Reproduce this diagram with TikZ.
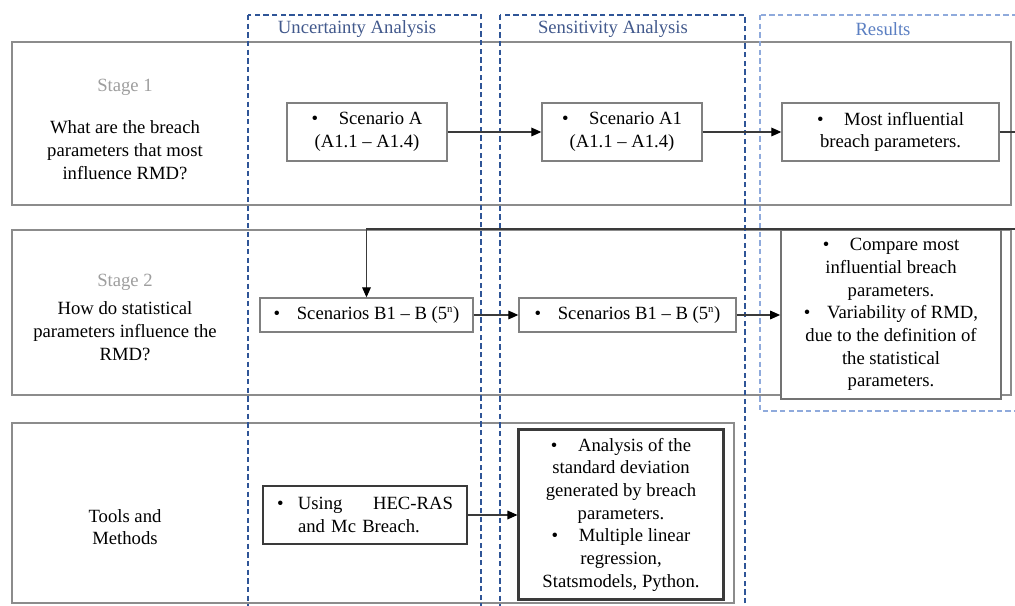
\documentclass[tikz,border=0pt]{standalone}
\usepackage{fontspec}
\setmainfont{Liberation Serif}
\usetikzlibrary{arrows.meta}
\definecolor{framegray}{HTML}{8C8C8C}
\definecolor{boxgray}{HTML}{808080}
\definecolor{colblue}{HTML}{2F5597}
\definecolor{resblue}{HTML}{8FAADC}
\definecolor{headblue}{HTML}{42598C}
\definecolor{reshead}{HTML}{5B7FC2}
\definecolor{stagegray}{HTML}{9E9E9E}
\definecolor{linkgray}{HTML}{3A3A3A}
\begin{document}
\begin{tikzpicture}[x=0.75pt, y=-0.75pt,
  font=\fontsize{14}{17}\selectfont,
  rowframe/.style = {draw=framegray, line width=1.2pt},
  column/.style   = {draw=colblue, line width=1.3pt,
                     dash pattern=on 4pt off 2.5pt},
  colhead/.style  = {text=headblue, inner sep=0pt},
  stagelbl/.style = {text=stagegray, inner sep=0pt},
  question/.style = {align=center, inner sep=0pt},
  box/.style      = {draw=boxgray, line width=1pt, fill=white,
                     align=center, inner sep=0pt},
  flow/.style     = {draw=linkgray, line width=0.9pt,
                     -{Triangle[length=7.5pt,width=6.5pt,color=black]}},
  ]
  \path[use as bounding box, fill=white] (0,0) rectangle (1015,606);
  % rows
  \draw[rowframe] (12,42)  rectangle (1011,205);
  \draw[rowframe] (12,230) rectangle (1011,395);
  \draw[rowframe] (12,423) rectangle (734,603);
  % columns
  \draw[column] (248,15) rectangle (481,620);
  \draw[column] (500,15) rectangle (745,620);
  \draw[column, draw=resblue] (760,15) rectangle (1030,411);
  \node[colhead] (uaHead) at (357,29) {Uncertainty Analysis};
  \node[colhead] (saHead) at (613,29) {Sensitivity Analysis};
  \node[colhead, text=reshead] (resHead) at (883,29) {Results};

  \node[stagelbl] (stageA) at (125,87) {Stage 1};
  \node[question] (questA) at (125,150) {What are the breach\\parameters that most\\influence RMD?};
  \node[stagelbl] (stageB) at (125,282) {Stage 2};
  \node[question] (questB) at (125,331) {How do statistical\\parameters influence the\\RMD?};
  \node[question] (tools) at (125,527) {Tools and\\Methods};

  \node[box, minimum width=120pt, minimum height=43.5pt] (scenA) at (367,132)
    {\textbullet\hspace{1.1em}Scenario A\\(A1.1 -- A1.4)};
  \node[box, minimum width=120pt, minimum height=43.5pt] (scenAs) at (622,132)
    {\textbullet\hspace{1.1em}Scenario A1\\(A1.1 -- A1.4)};
  \node[box, minimum width=162.75pt, minimum height=43.5pt] (mostInf) at (890.5,132)
    {\textbullet\hspace{1.1em}Most influential\\breach parameters.};

  \node[box, minimum width=159.75pt, minimum height=25.5pt] (scenB) at (366.5,315)
    {\textbullet\hspace{0.9em}Scenarios B1 -- B (5\textsuperscript{\footnotesize n})};
  \node[box, minimum width=162.75pt, minimum height=25.5pt] (scenBs) at (627.5,315)
    {\textbullet\hspace{0.9em}Scenarios B1 -- B (5\textsuperscript{\footnotesize n})};
  \node[box, draw=boxgray!90!black, line width=1.3pt, minimum width=165pt,
        minimum height=126.75pt] (compare) at (891,314.5)
    {\textbullet\hspace{1.1em}Compare most\\influential breach\\parameters.\\
     \textbullet\hspace{0.9em}Variability of RMD,\\due to the definition of\\the statistical\\parameters.};

  \node[box, draw=linkgray, line width=1.3pt, align=left, text width=132pt,
        inner xsep=10.5pt, minimum height=43.5pt] (hecRas) at (365,515)
    {\makebox[15.75pt][l]{\textbullet}Using\hfill HEC-RAS\\\hspace*{15.75pt}and Mc Breach.};
  \node[box, draw=linkgray, line width=0.8pt,
        minimum width=154.5pt, minimum height=128.25pt] (analysis) at (621,514.5)
    {\textbullet\hspace{1.1em}Analysis of the\\standard deviation\\generated by breach\\parameters.\\
     \textbullet\hspace{1.1em}Multiple linear\\regression,\\Statsmodels, Python.};
  \draw[linkgray, line width=0.6pt]
    ([xshift=1.8pt,yshift=-1.8pt]analysis.north west)
    rectangle ([xshift=-1.8pt,yshift=1.8pt]analysis.south east);

  \coordinate (turnR) at (1024,132);
  \coordinate (turnT) at (1024,229);
  \draw[flow] (scenA) -- (scenAs);
  \draw[flow] (scenAs) -- (mostInf);
  \draw[flow] (mostInf.east) -- (turnR) -- (turnT) -| (scenB.north);
  \draw[flow] (scenB) -- (scenBs);
  \draw[flow] (scenBs) -- (scenBs -| compare.west);
  \draw[flow] (hecRas) -- (hecRas -| analysis.west);
\end{tikzpicture}
\end{document}
